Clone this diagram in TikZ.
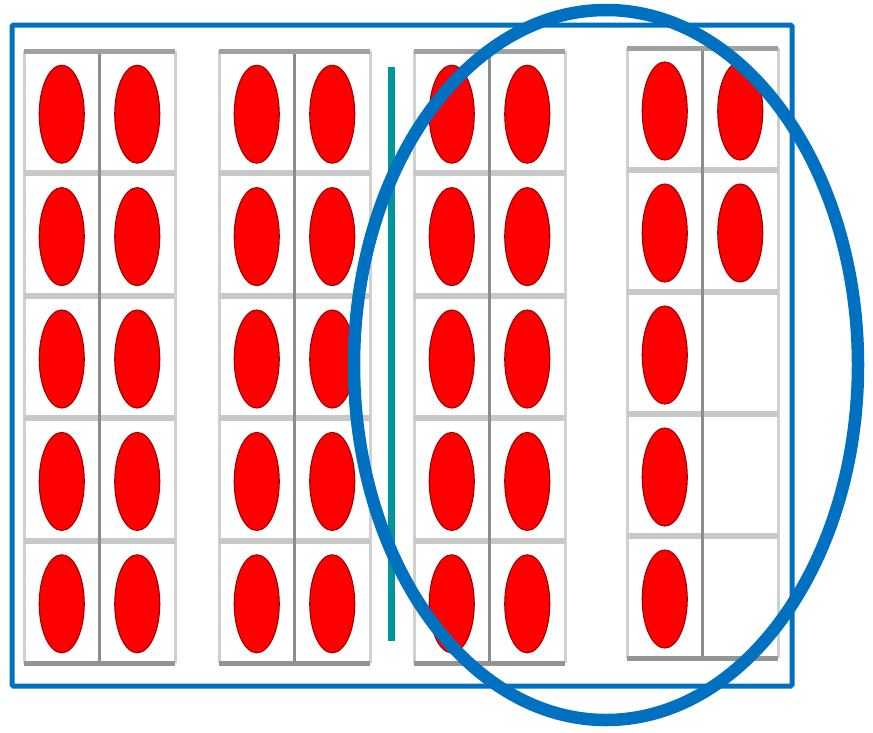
\documentclass[tikz,border=0pt]{standalone}
\definecolor{dotred}{RGB}{255,0,0}
\definecolor{dotedge}{RGB}{160,0,0}
\definecolor{outerblue}{RGB}{0,112,192}
\definecolor{tealline}{RGB}{0,150,155}
\definecolor{gridtop}{RGB}{160,160,160}
\definecolor{gridsep}{RGB}{200,200,200}
\definecolor{gridbot}{RGB}{148,148,148}
\definecolor{gridside}{RGB}{208,208,208}
\definecolor{gridmid}{RGB}{140,140,140}
\begin{document}
\begin{tikzpicture}[x=1pt,y=-1pt,
  dot/.style={fill=dotred, draw=dotedge, line width=1.1pt},
  topbar/.style={draw=gridtop, line width=5pt},
  sepbar/.style={draw=gridsep, line width=6pt},
  botbar/.style={draw=gridbot, line width=5pt},
  sideline/.style={draw=gridside, line width=3pt},
  midline/.style={draw=gridmid, line width=2.2pt},
  outerbox/.style={draw=outerblue, line width=5pt, rounded corners=1.5pt},
  divider/.style={draw=tealline, line width=6.5pt},
  ring/.style={draw=outerblue, line width=12.5pt}]
\useasboundingbox (0,0) rectangle (873,732);
\fill[white] (0,0) rectangle (873,732);
% ten-frames
\foreach \xa/\ya/\xb/\yb in {24/51/175/663, 219/51/370/663, 414/51/565/663, 627/48/778/658}{
  \pgfmathsetmacro\xm{(\xa+\xb)/2}
  \pgfmathsetmacro\h{(\yb-\ya)/5}
  \draw[sideline] (\xa,\ya) -- (\xa,\yb);
  \draw[sideline] (\xb,\ya) -- (\xb,\yb);
  \foreach \k in {1,...,4}
    \draw[sepbar] (\xa,{\ya+\k*\h}) -- (\xb,{\ya+\k*\h});
  \draw[midline] (\xm,\ya) -- (\xm,\yb);
  \draw[topbar] (\xa,\ya) -- (\xb,\ya);
  \draw[botbar] (\xa,\yb) -- (\xb,\yb);
}
% dots in the three full frames
\foreach \xa/\ya/\xb/\yb in {24/51/175/663, 219/51/370/663, 414/51/565/663}{
  \pgfmathsetmacro\h{(\yb-\ya)/5}
  \pgfmathsetmacro\w{(\xb-\xa)/2}
  \foreach \r in {1,...,5}
    \foreach \c in {1,2}
      \path[dot] ({\xa+(\c-0.5)*\w},{\ya+(\r-0.5)*\h+2}) ellipse [x radius=22.5, y radius=49];
}
% dots in the last frame (7)
\foreach \c/\r in {1/1,2/1,1/2,2/2,1/3,1/4,1/5}{
  \path[dot] ({627+(\c-0.5)*75.5},{48+(\r-0.5)*122+2}) ellipse [x radius=22.5, y radius=49];
}
% teal divider
\draw[divider] (391.5,67) -- (391.5,641);
% outer box
\draw[outerbox] (12,25) rectangle (792,686);
% ring
\draw[ring] (606,365) ellipse [x radius=252, y radius=355];
\end{tikzpicture}
\end{document}
